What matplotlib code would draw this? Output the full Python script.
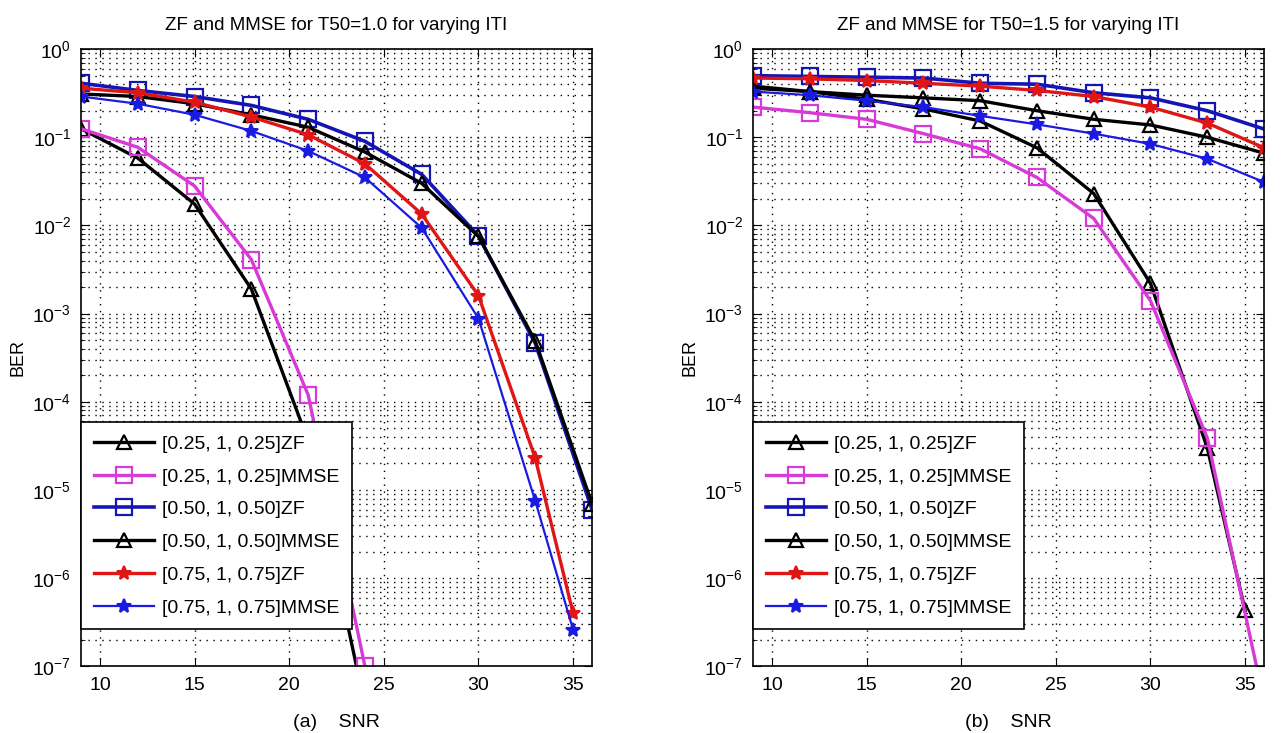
import matplotlib.pyplot as plt
from matplotlib.ticker import LogLocator, NullFormatter, FixedLocator

plt.rcParams['font.family'] = ['Liberation Sans', 'DejaVu Sans']
plt.rcParams['mathtext.default'] = 'regular'

# SNR points
snr = [9, 12, 15, 18, 21, 24, 27, 30, 33, 36]
snr_short = [9, 12, 15, 18, 21, 24]
snr_35 = [9, 12, 15, 18, 21, 24, 27, 30, 33, 35]

labels = ['[0.25, 1, 0.25]ZF', '[0.25, 1, 0.25]MMSE', '[0.50, 1, 0.50]ZF',
          '[0.50, 1, 0.50]MMSE', '[0.75, 1, 0.75]ZF', '[0.75, 1, 0.75]MMSE']

# (a) T50 = 1.0
a_zf25 = [0.125, 0.058, 0.0175, 0.0019, 3.6e-5, 3.6e-8]
a_mmse25 = [0.125, 0.077, 0.028, 0.0041, 1.2e-4, 1.0e-7]
a_zf50 = [0.41, 0.34, 0.29, 0.23, 0.16, 0.09, 0.038, 0.0076, 4.6e-4, 6.0e-6]
a_mmse50 = [0.31, 0.29, 0.24, 0.18, 0.13, 0.068, 0.030, 0.0075, 4.9e-4, 7.0e-6]
a_zf75 = [0.36, 0.32, 0.25, 0.17, 0.107, 0.05, 0.0135, 0.0016, 2.3e-5, 4.0e-7]
a_mmse75 = [0.29, 0.24, 0.18, 0.118, 0.07, 0.035, 0.0094, 8.8e-4, 7.5e-6, 2.6e-7]

# (b) T50 = 1.5
b_zf25 = [0.38, 0.33, 0.27, 0.21, 0.153, 0.076, 0.023, 0.0022, 3.0e-5, 4.3e-7]
b_mmse25 = [0.22, 0.19, 0.16, 0.11, 0.074, 0.035, 0.012, 0.0014, 3.9e-5, 4.0e-8]
b_zf50 = [0.50, 0.49, 0.48, 0.47, 0.41, 0.40, 0.32, 0.28, 0.20, 0.124]
b_mmse50 = [0.36, 0.33, 0.30, 0.28, 0.26, 0.20, 0.16, 0.138, 0.10, 0.066]
b_zf75 = [0.47, 0.46, 0.44, 0.41, 0.38, 0.34, 0.29, 0.22, 0.145, 0.076]
b_mmse75 = [0.33, 0.30, 0.26, 0.22, 0.175, 0.14, 0.11, 0.084, 0.057, 0.031]

decades = [1e-7, 1e-6, 1e-5, 1e-4, 1e-3, 1e-2, 1e-1, 1e0]
xticks = [10, 15, 20, 25, 30, 35]

BLACK = 'black'
MAG = '#d83ad8'
BLUE = '#1515b5'
RED = '#e01515'
BLUE2 = '#1a1ae0'


def draw(ax, xs, series, title, xlabel):
    styles = [
        dict(color=BLACK, marker='^', lw=2.4, ms=10, mfc='none', mew=1.6),
        dict(color=MAG, marker='s', lw=2.4, ms=11, mfc='none', mew=1.6),
        dict(color=BLUE, marker='s', lw=2.6, ms=11, mfc='none', mew=1.6),
        dict(color=BLACK, marker='^', lw=2.4, ms=10, mfc='none', mew=1.6),
        dict(color=RED, marker='*', lw=2.4, ms=10, mew=1.5),
        dict(color=BLUE2, marker='*', lw=1.6, ms=10, mew=1.5),
    ]
    for x, y, st, lab in zip(xs, series, styles, labels):
        ax.semilogy(x, y, label=lab, **st)
    ax.set_xlim(9, 36)
    ax.set_ylim(1e-7, 1)
    ax.xaxis.set_major_locator(FixedLocator(xticks))
    ax.yaxis.set_major_locator(FixedLocator(decades))
    ax.yaxis.set_minor_locator(LogLocator(base=10, subs=range(2, 10), numticks=12))
    ax.yaxis.set_minor_formatter(NullFormatter())
    dots = (0, (1, 4))
    ax.grid(True, which='major', linestyle=dots, color='black', lw=1.0)
    ax.grid(True, which='minor', axis='y', linestyle=dots, color='black', lw=1.0)
    ax.tick_params(which='both', direction='in', top=True, right=True, labelsize=14)
    ax.tick_params(which='major', length=6)
    ax.tick_params(which='minor', length=3)
    ax.tick_params(axis='x', pad=8)
    ax.tick_params(axis='y', pad=7)
    for s in ax.spines.values():
        s.set_linewidth(1.2)
    ax.set_title(title, fontsize=13.5, pad=14)
    ax.set_xlabel(xlabel, fontsize=14, labelpad=14)
    ax.set_ylabel('BER', fontsize=13)
    leg = ax.legend(loc='lower left', bbox_to_anchor=(0, 0.06), borderaxespad=0,
                    fontsize=14, fancybox=False, framealpha=1, edgecolor='black',
                    handlelength=3.1, handletextpad=0.4, labelspacing=0.78,
                    borderpad=0.65)
    leg.get_frame().set_linewidth(1.2)


fig = plt.figure(figsize=(12.82, 7.33), dpi=100)
ax1 = fig.add_axes([0.0632, 0.091, 0.3986, 0.842])
ax2 = fig.add_axes([0.5874, 0.091, 0.3986, 0.842])

draw(ax1, [snr_short, snr_short, snr, snr, snr_35, snr_35],
     [a_zf25, a_mmse25, a_zf50, a_mmse50, a_zf75, a_mmse75],
     'ZF and MMSE for T50=1.0 for varying ITI', '(a)    SNR')
draw(ax2, [snr_35, snr, snr, snr, snr, snr],
     [b_zf25, b_mmse25, b_zf50, b_mmse50, b_zf75, b_mmse75],
     'ZF and MMSE for T50=1.5 for varying ITI', '(b)    SNR')

fig.savefig('out.png', dpi=100)
